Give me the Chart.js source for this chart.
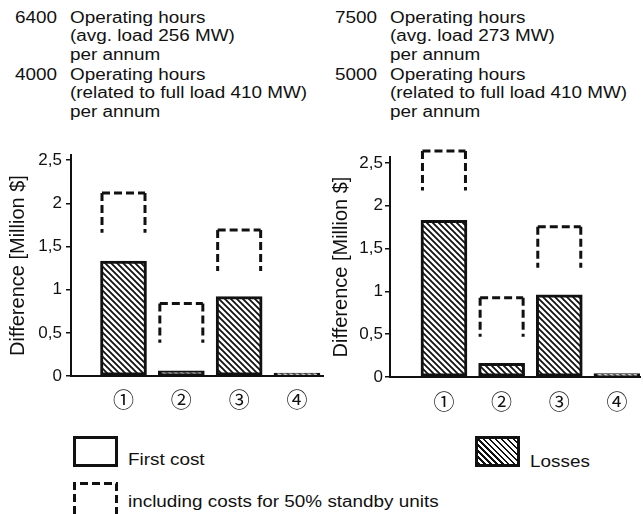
<!DOCTYPE html>
<html>
<head>
<meta charset="utf-8">
<script src="https://cdn.jsdelivr.net/npm/chart.js@4.4.1/dist/chart.umd.min.js"></script>
<style>
  html, body { margin: 0; padding: 0; background: #fff; }
  body {
    position: relative; width: 643px; height: 514px; overflow: hidden;
    font-family: "Liberation Sans", Arial, sans-serif; font-size: 16px; color: #111;
  }
  .t { position: absolute; white-space: nowrap; line-height: 18px; transform: scaleX(1.18); transform-origin: 0 0; }
  .panel { position: absolute; top: 140px; }
  .key { position: absolute; box-sizing: border-box; width: 45px; height: 31px; border: 3px solid #111; }
  .key.hatch { background: repeating-linear-gradient(45deg, #111 0 1.6px, #fff 1.6px 4.2px); }
</style>
</head>
<body>
  <!-- header, left -->
  <div class="t" style="left:15px;top:9px">6400</div>
  <div class="t" style="left:70px;top:9px">Operating hours</div>
  <div class="t" style="left:70px;top:27px">(avg. load 256 MW)</div>
  <div class="t" style="left:70px;top:46px">per annum</div>
  <div class="t" style="left:15px;top:66px">4000</div>
  <div class="t" style="left:70px;top:66px">Operating hours</div>
  <div class="t" style="left:70px;top:84px">(related to full load 410 MW)</div>
  <div class="t" style="left:70px;top:103px">per annum</div>
  <!-- header, right -->
  <div class="t" style="left:335px;top:9px">7500</div>
  <div class="t" style="left:390px;top:9px">Operating hours</div>
  <div class="t" style="left:390px;top:27px">(avg. load 273 MW)</div>
  <div class="t" style="left:390px;top:46px">per annum</div>
  <div class="t" style="left:335px;top:66px">5000</div>
  <div class="t" style="left:390px;top:66px">Operating hours</div>
  <div class="t" style="left:390px;top:84px">(related to full load 410 MW)</div>
  <div class="t" style="left:390px;top:103px">per annum</div>

  <div class="panel" style="left:0"><canvas id="chart-a" width="330" height="280"></canvas></div>
  <div class="panel" style="left:320px"><canvas id="chart-b" width="323" height="280"></canvas></div>

  <!-- key -->
  <div class="key" style="left:73px;top:436px"></div>
  <div class="t" style="left:128px;top:451px">First cost</div>
  <div class="key hatch" style="left:475px;top:436px"></div>
  <div class="t" style="left:530px;top:453px">Losses</div>
  <svg style="position:absolute;left:73px;top:482px" width="45" height="32">
    <path d="M1.5,32 V1.5 H43.5 V32" fill="none" stroke="#111" stroke-width="3" stroke-dasharray="8 4"/>
  </svg>
  <div class="t" style="left:128px;top:493px">including costs for 50% standby units</div>

<script>
const INK = '#111';
const FONT = '"Liberation Sans", Arial, sans-serif';

// ── Data ─────────────────────────────────────────────────────────────────────
const categories = ['①', '②', '③', '④'];
const yTicks = [0, 0.5, 1, 1.5, 2, 2.5];

// left: 6400 h / 4000 h
const lossesA = [1.33, 0.06, 0.92, 0.035];
const standbyTopA = [2.12, 0.84, 1.69];
const standbyLowA = [1.66, 0.385, 1.215];

// right: 7500 h / 5000 h
const lossesB = [1.83, 0.16, 0.96, 0.04];
const standbyTopB = [2.64, 0.925, 1.755];
const standbyLowB = [2.18, 0.47, 1.275];

// ── Helpers ──────────────────────────────────────────────────────────────────
function hatchPattern(ctx) {
  const n = 6;
  const c = document.createElement('canvas');
  c.width = c.height = n;
  const g = c.getContext('2d');
  g.fillStyle = '#fff';
  g.fillRect(0, 0, n, n);
  g.strokeStyle = INK;
  g.lineWidth = 1.8;
  g.beginPath();
  g.moveTo(-1, -1); g.lineTo(n + 1, n + 1);
  g.moveTo(-1, n - 1); g.lineTo(1, n + 1);
  g.moveTo(n - 1, -1); g.lineTo(n + 1, 1);
  g.stroke();
  return ctx.createPattern(c, 'repeat');
}

// open-bottomed dashed box over the floating "standby" bars
const bracketPlugin = {
  id: 'bracket',
  afterDatasetsDraw(chart) {
    const meta = chart.getDatasetMeta(1);
    const ctx = chart.ctx;
    ctx.save();
    ctx.strokeStyle = INK;
    ctx.lineWidth = 3;
    ctx.setLineDash([8, 4]);
    meta.data.forEach(bar => {
      const { x, y, base, width } = bar.getProps(['x', 'y', 'base', 'width'], true);
      const l = x - width / 2 + 1.5, r = x + width / 2 - 1.5;
      ctx.beginPath(); ctx.moveTo(l, y); ctx.lineTo(r, y); ctx.stroke();
      ctx.beginPath(); ctx.moveTo(l, y); ctx.lineTo(l, base); ctx.stroke();
      ctx.beginPath(); ctx.moveTo(r, y); ctx.lineTo(r, base); ctx.stroke();
    });
    ctx.restore();
  }
};

function makeChart(id, losses, low, top, lay) {
  const canvas = document.getElementById(id);
  const ctx = canvas.getContext('2d');
  return new Chart(ctx, {
    type: 'bar',
    data: {
      datasets: [
        {
          label: 'Losses',
          data: losses.map((v, i) => ({ x: i + 1, y: v })),
          backgroundColor: hatchPattern(ctx),
          borderColor: INK,
          borderWidth: 3,
          borderSkipped: false
        },
        {
          label: 'including costs for 50% standby units',
          data: top.map((v, i) => ({ x: i + 1, y: [low[i], v] })),
          backgroundColor: 'rgba(0,0,0,0)',
          borderWidth: 0
        }
      ]
    },
    options: {
      responsive: false,
      animation: false,
      events: [],
      grouped: false,
      barThickness: 46,
      layout: { padding: { top: lay.padTop, right: lay.padRight, left: 0, bottom: 0 } },
      plugins: { legend: { display: false }, tooltip: { enabled: false } },
      scales: {
        x: {
          type: 'linear',
          offset: false,
          min: lay.xMin,
          max: lay.xMax,
          afterBuildTicks: s => { s.ticks = categories.map((c, i) => ({ value: i + 1 })); },
          afterFit: s => { s.height = lay.xHeight; },
          ticks: {
            callback: v => categories[v - 1] || '',
            font: { family: '"Noto Sans CJK JP", "DejaVu Sans", sans-serif', size: 21 },
            color: INK,
            padding: lay.xTickPad,
            maxRotation: 0,
            autoSkip: false
          },
          grid: { display: false },
          border: { display: true, color: INK, width: 2 }
        },
        y: {
          min: 0,
          max: lay.yMax,
          afterBuildTicks: s => { s.ticks = yTicks.map(v => ({ value: v })); },
          afterFit: s => { s.width = lay.yWidth; },
          ticks: {
            callback: v => String(v).replace('.', ','),
            font: { family: FONT, size: 17 },
            color: INK,
            padding: lay.yTickPad
          },
          grid: { drawOnChartArea: false, drawTicks: true, tickLength: 5, color: INK, lineWidth: 1.5 },
          border: { display: true, color: INK, width: 2 },
          title: {
            display: true,
            text: 'Difference [Million $]',
            font: { family: FONT, size: 20 },
            color: INK,
            padding: { top: lay.titlePad, bottom: 0 }
          }
        }
      }
    },
    plugins: [bracketPlugin]
  });
}

makeChart('chart-a', lossesA, standbyLowA, standbyTopA, {
  xMin: 0.092, xMax: 4.45, yMax: 2.56, padTop: 15, padRight: 7,
  yWidth: 71, xHeight: 44, xTickPad: 2, yTickPad: 4, titlePad: 6
});
makeChart('chart-b', lossesB, standbyLowB, standbyTopB, {
  xMin: 0.064, xMax: 4.40, yMax: 2.57, padTop: 17, padRight: 3,
  yWidth: 70, xHeight: 43, xTickPad: 3, yTickPad: 2, titlePad: 9
});
</script>
</body>
</html>
